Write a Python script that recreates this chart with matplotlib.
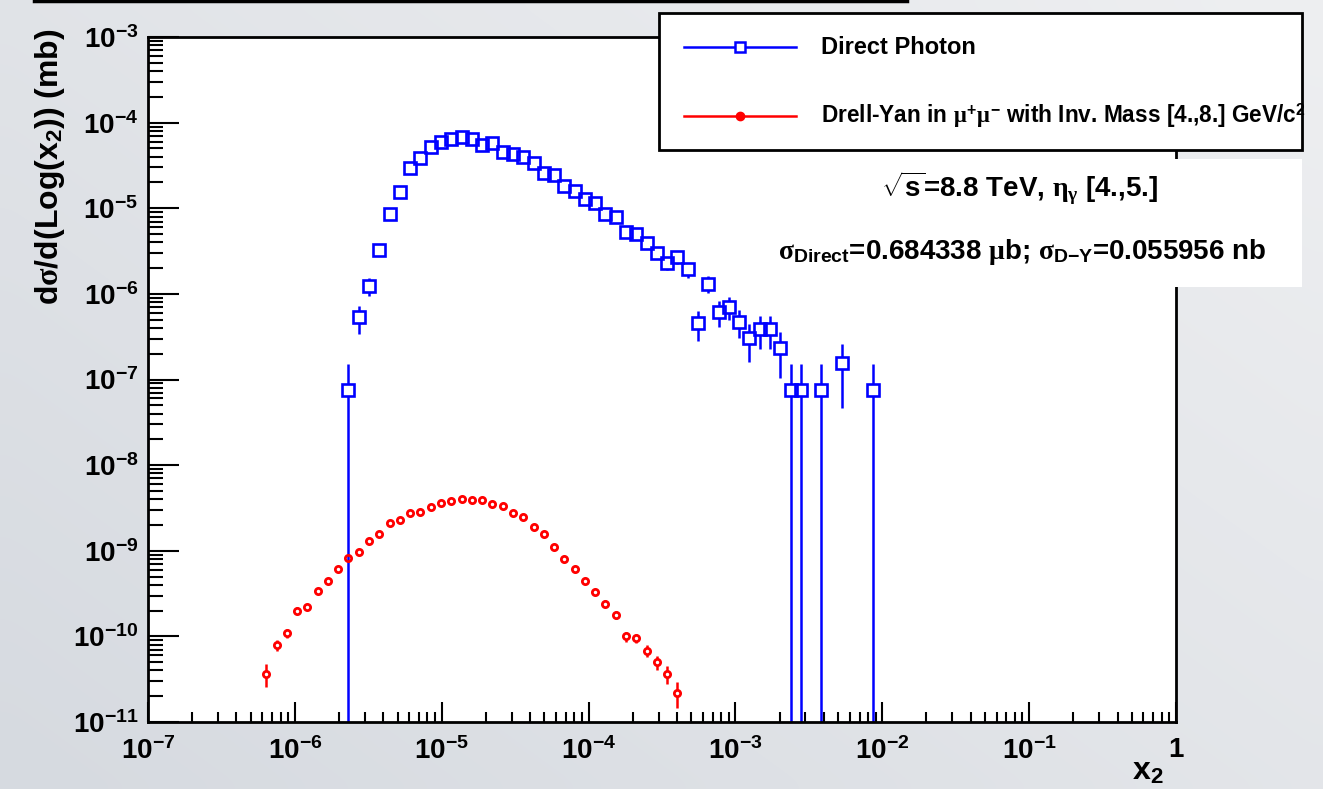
import numpy as np
import matplotlib
matplotlib.use('Agg')
import matplotlib.pyplot as plt
from matplotlib.patches import Rectangle
from matplotlib.lines import Line2D
from matplotlib.ticker import LogLocator, FuncFormatter, NullFormatter

plt.rcParams['font.family'] = ['Liberation Sans', 'DejaVu Sans']
plt.rcParams['font.weight'] = 'bold'
plt.rcParams['mathtext.fontset'] = 'custom'
plt.rcParams['mathtext.rm'] = 'Liberation Sans:bold'
plt.rcParams['mathtext.bf'] = 'Liberation Sans:bold'
plt.rcParams['mathtext.sf'] = 'Liberation Sans:bold'
plt.rcParams['mathtext.it'] = 'Liberation Serif'

# histogram binning: 100 log bins of x2 between 1e-7 and 1
bin_edges = np.logspace(-7, 0, 101)
bin_centers = np.sqrt(bin_edges[:-1] * bin_edges[1:])

# Direct photon (blue)
photon_bins = [19, 20, 21, 22, 23, 24, 25, 26, 27, 28, 29, 30, 31, 32, 33, 34,
               35, 36, 37, 38, 39, 40, 41, 42, 43, 44, 45, 46, 47, 48, 49, 50,
               51, 52, 53, 54, 55, 56, 57, 58, 59, 60, 61, 62, 63, 65, 67, 70]
photon_vals = [7.5e-8, 5.3e-7, 1.23e-6, 3.25e-6, 8.55e-6, 1.56e-5, 2.92e-5, 3.83e-5,
               5.24e-5, 5.89e-5, 6.38e-5, 6.84e-5, 6.38e-5, 5.47e-5, 5.82e-5, 4.57e-5,
               4.26e-5, 3.93e-5, 3.40e-5, 2.60e-5, 2.44e-5, 1.82e-5, 1.60e-5, 1.27e-5,
               1.14e-5, 8.55e-6, 7.96e-6, 5.32e-6, 4.95e-6, 3.95e-6, 3.02e-6, 2.31e-6,
               2.71e-6, 1.93e-6, 4.59e-7, 1.32e-6, 6.18e-7, 7.07e-7, 4.72e-7, 3.02e-7,
               3.88e-7, 3.88e-7, 2.31e-7, 7.5e-8, 7.5e-8, 7.5e-8, 1.54e-7, 7.5e-8]
photon_relerr = [1.0, 0.36, 0.24, 0.15, 0.09, 0.07, 0.05, 0.045,
                 0.04, 0.035, 0.035, 0.035, 0.035, 0.04, 0.035, 0.04,
                 0.04, 0.045, 0.05, 0.055, 0.055, 0.065, 0.07, 0.08,
                 0.08, 0.09, 0.1, 0.12, 0.12, 0.14, 0.16, 0.18,
                 0.17, 0.2, 0.38, 0.22, 0.33, 0.3, 0.36, 0.47,
                 0.42, 0.42, 0.55, 1.0, 1.0, 1.0, 0.7, 1.0]

# Drell-Yan mu+mu- (red)
dy_bins = list(range(11, 52))
dy_vals = [3.63e-11, 7.94e-11, 1.10e-10, 2.00e-10, 2.21e-10, 3.39e-10, 4.47e-10, 6.10e-10,
           8.13e-10, 9.55e-10, 1.29e-9, 1.55e-9, 2.10e-9, 2.28e-9, 2.75e-9, 2.85e-9,
           3.26e-9, 3.66e-9, 3.86e-9, 3.97e-9, 3.94e-9, 3.90e-9, 3.53e-9, 3.29e-9,
           2.77e-9, 2.49e-9, 1.87e-9, 1.56e-9, 1.11e-9, 8.04e-10, 6.05e-10, 4.38e-10,
           3.34e-10, 2.42e-10, 1.78e-10, 1.00e-10, 9.55e-11, 6.76e-11, 5.01e-11, 3.63e-11,
           2.19e-11]
dy_relerr = [0.30, 0.14, 0.12, 0.09, 0.085, 0.07, 0.06, 0.05,
             0.045, 0.04, 0.035, 0.03, 0.03, 0.03, 0.03, 0.03,
             0.03, 0.03, 0.03, 0.03, 0.03, 0.03, 0.03, 0.03,
             0.03, 0.03, 0.035, 0.04, 0.045, 0.05, 0.06, 0.07,
             0.08, 0.09, 0.1, 0.13, 0.13, 0.16, 0.19, 0.23,
             0.33]

W, H = 1323, 789
def fx(px):
    return px / W
def fy(py):
    return 1 - py / H

fig = plt.figure(figsize=(W / 100, H / 100), dpi=100)

# blurred slide-like grey background
bg = fig.add_axes([0, 0, 1, 1], zorder=-10)
gx, gy = np.meshgrid(np.linspace(0, 1, 64), np.linspace(0, 1, 64))
dark = np.array([214, 218, 224]) / 255
light = np.array([238, 239, 241]) / 255
t = np.clip(0.55 * gx + 0.45 * (1 - gy), 0, 1)[..., None]
bg.imshow(dark + (light - dark) * t, aspect='auto', extent=[0, 1, 0, 1],
          interpolation='bicubic')
bg.axis('off')

ax = fig.add_axes([fx(148), fy(722), fx(1176) - fx(148), fy(37) - fy(722)])
ax.set_facecolor('white')
ax.set_xscale('log')
ax.set_yscale('log')
ax.set_xlim(1e-7, 1)
ax.set_ylim(1e-11, 1e-3)

blue = '#0000ff'
red = '#ff0000'

px_ = bin_centers[photon_bins]
py_ = np.array(photon_vals)
p_hi = py_ * np.array(photon_relerr)
p_lo = py_ * np.minimum(np.array(photon_relerr), 1 - 1e-9)

dx_ = bin_centers[dy_bins]
dy_ = np.array(dy_vals)
d_err = dy_ * np.array(dy_relerr)

# error lines first, then white fills to hide them inside the markers, then outlines
ax.errorbar(dx_, dy_, yerr=d_err, fmt='none', ecolor=red, elinewidth=1.8,
            capsize=0, zorder=2)
ax.plot(dx_, dy_, 'o', ms=5.2, mfc='white', mec='none', zorder=2.1)
ax.errorbar(px_, py_, yerr=[p_lo, p_hi], fmt='none', ecolor=blue, elinewidth=1.8,
            capsize=0, zorder=2.2)
ax.plot(px_, py_, 's', ms=9.0, mfc='white', mec='none', zorder=2.3)
ax.plot(dx_, dy_, 'o', ms=4.5, mfc='none', mec=red, mew=2.0, zorder=2.4)
ax.plot(px_, py_, 's', ms=8.6, mfc='none', mec=blue, mew=1.9, zorder=2.5)

def log_label(v, pos):
    e = int(round(np.log10(v)))
    if e == 0:
        return r'$\mathrm{1}$'
    return r'$\mathrm{10^{%d}}$' % e

for axis in (ax.xaxis, ax.yaxis):
    axis.set_major_locator(LogLocator(base=10, numticks=20))
    axis.set_minor_locator(LogLocator(base=10, subs=np.arange(2, 10), numticks=20))
    axis.set_major_formatter(FuncFormatter(log_label))
    axis.set_minor_formatter(NullFormatter())

ax.tick_params(axis='x', which='major', direction='in', length=14.5, width=1.5,
               labelsize=20, pad=11)
ax.tick_params(axis='x', which='minor', direction='in', length=7, width=1.5)
ax.tick_params(axis='y', which='major', direction='in', length=22, width=1.5,
               labelsize=20, pad=7)
ax.tick_params(axis='y', which='minor', direction='in', length=11, width=1.5)
for s in ax.spines.values():
    s.set_linewidth(2.0)

# axis titles
fig.text(fx(50), fy(28), r'd$\sigma$/d(Log(x$_{2}$)) (mb)', rotation=90,
         ha='center', va='top', fontsize=23)
fig.text(fx(1164), fy(772), r'x$_{2}$', ha='right', va='center', fontsize=23)

# stray line at the top of the slide
fig.add_artist(Line2D([fx(34), fx(907)], [fy(1), fy(1)], color='black', lw=2.5))

# legend box
fig.add_artist(Rectangle((fx(659), fy(150)), fx(1302) - fx(659), fy(13) - fy(150),
                         transform=fig.transFigure, facecolor='white',
                         edgecolor='black', lw=2.0, zorder=5))
fig.add_artist(Line2D([fx(684), fx(796)], [fy(47), fy(47)], color=blue, lw=1.8,
                      zorder=6))
fig.add_artist(Line2D([fx(740)], [fy(47)], marker='s', ms=7.5, mfc='white', mec=blue,
                      mew=1.8, zorder=6))
fig.add_artist(Line2D([fx(684), fx(796)], [fy(116), fy(116)], color=red, lw=1.8,
                      zorder=6))
fig.add_artist(Line2D([fx(740)], [fy(116)], marker='o', ms=6, mfc=red, mec=red,
                      zorder=6))
fig.text(fx(821), fy(47), 'Direct Photon', ha='left', va='center', fontsize=17,
         zorder=7)
fig.text(fx(821), fy(116), r'Drell-Yan in $\mu^{+}\mu^{-}$ with Inv. Mass [4.,8.] GeV/c$^{2}$',
         ha='left', va='center', fontsize=16.3, zorder=7)

# info box
fig.add_artist(Rectangle((fx(745), fy(287)), fx(1302) - fx(745), fy(159) - fy(287),
                         transform=fig.transFigure, facecolor='white',
                         edgecolor='none', zorder=5))
fig.text(fx(1020), fy(188), r'$\sqrt{\mathrm{s}}$=8.8 TeV, $\eta_{\gamma}$ [4.,5.]',
         ha='center', va='center', fontsize=20, zorder=7)
fig.text(fx(1022), fy(252),
         r'$\sigma_{\mathrm{Direct}}$=0.684338 $\mu$b; $\sigma_{\mathrm{D{-}Y}}$=0.055956 nb',
         ha='center', va='center', fontsize=20, zorder=7)

fig.savefig('out.png', dpi=100)
